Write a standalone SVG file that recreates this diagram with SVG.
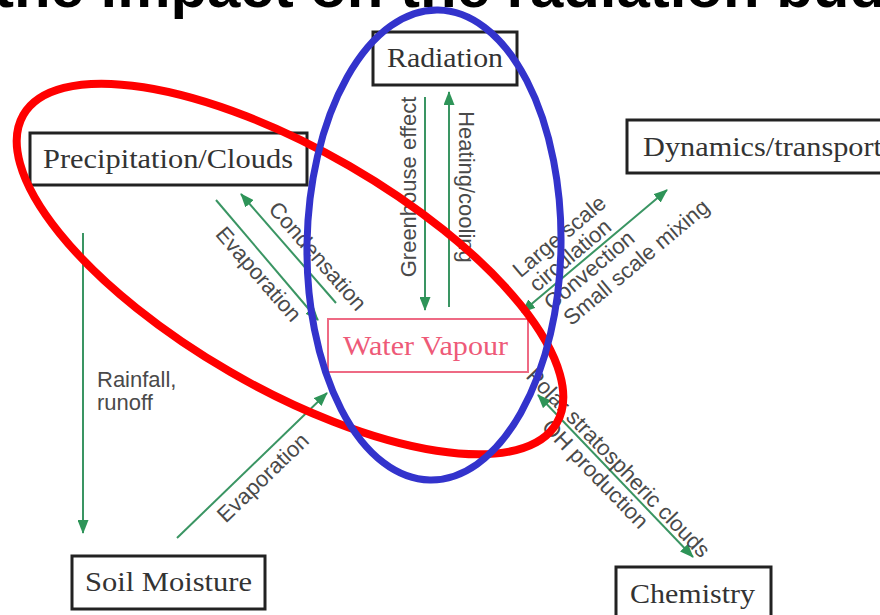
<svg xmlns="http://www.w3.org/2000/svg" width="880" height="615" viewBox="0 0 880 615">
<defs>
<style>
.box{fill:#fff;stroke:#222;stroke-width:3}
.wv{fill:#fff;stroke:#ee6a84;stroke-width:2}
.nt{font-family:"Liberation Serif","Times New Roman",serif;font-size:28px;fill:#333}
.wvt{font-family:"Liberation Serif","Times New Roman",serif;font-size:28px;fill:#ee5a78}
.lb{font-family:"Liberation Sans",Arial,sans-serif;font-size:22px;fill:#4a4a4a}
.cn{stroke:#3a9563;stroke-width:2;fill:none}
.title{font-family:"Liberation Sans",Arial,sans-serif;font-size:58px;font-weight:bold;fill:#000}
</style>
<marker id="ah" viewBox="0 0 14 11" refX="13" refY="5.5" markerWidth="14" markerHeight="11" orient="auto-start-reverse" markerUnits="userSpaceOnUse">
<path d="M0,0 L14,5.5 L0,11 z" fill="#2e9458"/>
</marker>
</defs>
<rect width="880" height="615" fill="#fff"/>
<text class="title" x="-6" y="7" textLength="892" lengthAdjust="spacingAndGlyphs">the impact on the radiation bud</text>

<g id="radiation"><rect class="box" x="373" y="32" width="144" height="53"/><text class="nt" x="387" y="67" textLength="116" lengthAdjust="spacingAndGlyphs">Radiation</text></g>
<g id="precipitation"><rect class="box" x="30" y="133" width="277" height="52"/><text class="nt" x="43" y="168" textLength="250" lengthAdjust="spacingAndGlyphs">Precipitation/Clouds</text></g>
<g id="dynamics"><rect class="box" x="627" y="120" width="270" height="53"/><text class="nt" x="643" y="156" textLength="239" lengthAdjust="spacingAndGlyphs">Dynamics/transport</text></g>
<g id="water-vapour"><rect class="wv" x="328" y="319" width="200" height="53"/><text class="wvt" x="343" y="355" textLength="165" lengthAdjust="spacingAndGlyphs">Water Vapour</text></g>
<g id="soil"><rect class="box" x="72" y="556" width="193" height="53"/><text class="nt" x="85" y="591" textLength="167" lengthAdjust="spacingAndGlyphs">Soil Moisture</text></g>
<g id="chemistry"><rect class="box" x="616" y="567" width="155" height="60"/><text class="nt" x="630" y="603" textLength="125" lengthAdjust="spacingAndGlyphs">Chemistry</text></g>

<g id="connectors">
<line class="cn" x1="425" y1="97" x2="425" y2="310" marker-end="url(#ah)"/>
<line class="cn" x1="449" y1="307" x2="449" y2="92" marker-end="url(#ah)"/>
<line class="cn" x1="83" y1="233" x2="83" y2="533" marker-end="url(#ah)"/>
<line class="cn" x1="177" y1="538" x2="327" y2="393" marker-end="url(#ah)"/>
<line class="cn" x1="216" y1="200" x2="318" y2="320" marker-end="url(#ah)"/>
<line class="cn" x1="336" y1="303" x2="241" y2="194" marker-end="url(#ah)"/>
<line class="cn" x1="522" y1="312" x2="667" y2="190" marker-start="url(#ah)" marker-end="url(#ah)"/>
<line class="cn" x1="538" y1="395" x2="693" y2="557" marker-start="url(#ah)" marker-end="url(#ah)"/>
</g>

<g id="labels">
<text class="lb" text-anchor="middle" transform="translate(416,187) rotate(-90)">Greenhouse effect</text>
<text class="lb" text-anchor="middle" transform="translate(459,187) rotate(90)">Heating/cooling</text>
<text class="lb" x="97" y="387">Rainfall,</text>
<text class="lb" x="97" y="410">runoff</text>
<text class="lb" text-anchor="middle" transform="translate(268,483) rotate(-44)">Evaporation</text>
<text class="lb" text-anchor="middle" transform="translate(253,279) rotate(49)">Evaporation</text>
<text class="lb" text-anchor="middle" transform="translate(312,261) rotate(49)">Condensation</text>
<text class="lb" text-anchor="middle" transform="translate(564,242) rotate(-40)">Large scale</text>
<text class="lb" text-anchor="middle" transform="translate(575,261) rotate(-40)">circulation</text>
<text class="lb" text-anchor="middle" transform="translate(594,276) rotate(-40)">Convection</text>
<text class="lb" text-anchor="middle" transform="translate(641,268) rotate(-40)">Small scale mixing</text>
<text class="lb" text-anchor="middle" transform="translate(613,468) rotate(46)">Polar stratospheric clouds</text>
<text class="lb" text-anchor="middle" transform="translate(590,479) rotate(46)">OH production</text>
</g>

<g id="highlights" fill="none">
<ellipse cx="290" cy="269" rx="308" ry="119" transform="rotate(30 290 269)" stroke="#ff0000" stroke-width="8"/>
<ellipse cx="434" cy="245" rx="127" ry="235" transform="rotate(1 434 245)" stroke="#3333cc" stroke-width="7"/>
</g>
</svg>
